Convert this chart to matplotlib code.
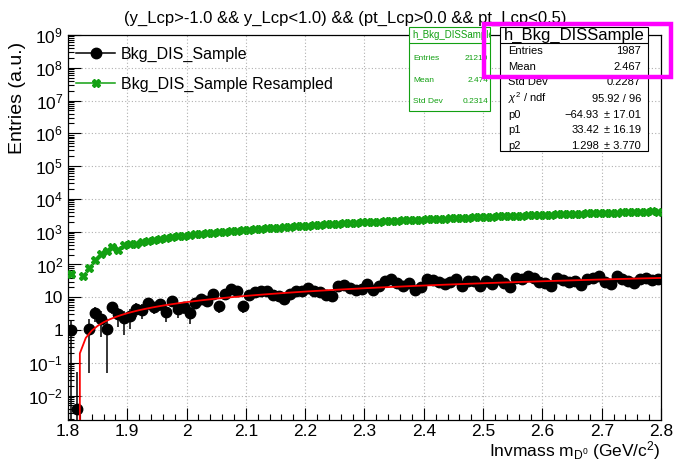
import numpy as np
import matplotlib
matplotlib.use("Agg")
import matplotlib.pyplot as plt
import matplotlib.patches as mpatches
from matplotlib.lines import Line2D
from matplotlib.ticker import FixedLocator, FuncFormatter, NullFormatter

plt.rcParams['font.family'] = ['Liberation Sans', 'DejaVu Sans']
plt.rcParams['mathtext.fontset'] = 'custom'
plt.rcParams['mathtext.rm'] = 'Liberation Sans'
plt.rcParams['mathtext.it'] = 'Liberation Sans:italic'

# bin centres, 100 bins of 0.01 between 1.8 and 2.8
bin_lo = 1.8
bin_w = 0.01
n_bins = 100

# h_Bkg_DISSample (black)
bkg = [1.0, 0.004, np.nan, 1.1, 3.3, 2.2, 1.1, 5.2, 3.0, 2.3,
       2.7, 4.5, 4.1, 6.6, 5.2, 6.1, 3.6, 7.7, 4.3, 5.2,
       3.3, 6.9, 8.7, 7.7, 12.3, 5.5, 13, 18, 15.5, 5.5,
       12, 14, 16, 15, 12, 11, 9, 13, 15, 15.5,
       19, 15, 14, 12, 11, 22, 23, 19, 17, 18,
       25, 17, 22, 31, 35, 27, 22, 28, 17, 20,
       35, 33, 30, 25, 29, 35, 22, 31, 31, 22,
       31, 25, 35, 27, 21, 40, 35, 44, 38, 30,
       28, 22, 40, 33, 30, 31, 24, 35, 40, 44,
       30, 26, 44, 35, 31, 28, 35, 38, 33, 35]
bkg_err = [1.0, 0.05, 0, 1.05, 1.6, 1.6, 1.05, 2.2, 1.8, 1.6,
           1.6, 2.0, 2.0, 2.4, 2.2, 2.3, 1.8, 2.6, 2.0, 2.2,
           1.8, 2.5, 2.8, 2.6, 3.3, 2.2, 3.4, 4.0, 3.7, 2.2,
           3.3, 3.5, 3.8, 3.7, 3.3, 3.1, 2.8, 3.4, 3.7, 3.7,
           4.1, 3.7, 3.5, 3.3, 3.1, 4.4, 4.5, 4.1, 3.9, 4.0,
           4.7, 3.9, 4.4, 5.2, 5.5, 4.9, 4.4, 5.0, 3.9, 4.2,
           5.5, 5.4, 5.1, 4.7, 5.1, 5.5, 4.4, 5.2, 5.2, 4.4,
           5.2, 4.7, 5.5, 4.9, 4.3, 5.9, 5.5, 6.2, 5.8, 5.1,
           5.0, 4.4, 5.9, 5.4, 5.1, 5.2, 4.6, 5.5, 5.9, 6.2,
           5.1, 4.8, 6.2, 5.5, 5.2, 5.0, 5.5, 5.8, 5.4, 5.5]

# resampled (green)
resampled = [50, np.nan, 45, 80, 135, 215, 250, 330, 280, 400,
             420, 430, 480, 520, 560, 590, 620, 670, 720, 760,
             800, 830, 860, 900, 940, 980, 1010, 1050, 1080, 1120,
             1150, 1190, 1230, 1270, 1300, 1340, 1380, 1420, 1460, 1500,
             1540, 1580, 1620, 1660, 1700, 1750, 1800, 1840, 1880, 1920,
             1960, 2000, 2040, 2080, 2120, 2170, 2210, 2250, 2300, 2340,
             2380, 2420, 2470, 2510, 2560, 2600, 2640, 2690, 2730, 2780,
             2820, 2870, 2910, 2960, 3000, 3050, 3090, 3140, 3180, 3230,
             3270, 3320, 3360, 3410, 3450, 3500, 3540, 3590, 3630, 3680,
             3720, 3770, 3810, 3860, 3900, 3950, 3990, 4040, 4200, 4100]

# pol2 fit parameters from the stats box
p0, p1, p2 = -64.93, 33.42, 1.298

x_ticks = [1.8, 1.9, 2.0, 2.1, 2.2, 2.3, 2.4, 2.5, 2.6, 2.7, 2.8]
x_tick_labels = ['1.8', '1.9', '2', '2.1', '2.2', '2.3', '2.4', '2.5', '2.6', '2.7', '2.8']
y_decades = list(range(-2, 10))

W, H = 674, 463


def fx(px):
    return px / W


def fy(py):
    return 1 - py / H


centers = bin_lo + bin_w * (np.arange(n_bins) + 0.5)

fig = plt.figure(figsize=(6.74, 4.63), dpi=100)
ax = fig.add_axes([fx(68), fy(420), fx(661) - fx(68), fy(35) - fy(420)])
ax.set_yscale('log')

green = '#12a012'
ax.plot(centers, resampled, linestyle='none', marker='X', ms=6.3, color=green,
        mec=green, zorder=3)
ax.errorbar(centers, bkg, yerr=bkg_err, fmt='o', ms=7.5, color='black',
            ecolor='black', elinewidth=1.1, capsize=0, zorder=4)

xf = np.linspace(1.8, 2.8, 101)
yf = p0 + p1 * xf + p2 * xf ** 2
ax.plot(xf, yf, color='red', lw=1.3, zorder=5)

ax.set_xlim(1.8, 2.8)
ax.set_ylim(1.8e-3, 1e9)

ax.xaxis.set_major_locator(FixedLocator(x_ticks))
ax.set_xticklabels(x_tick_labels)
ax.xaxis.set_minor_locator(FixedLocator(np.arange(1.8, 2.801, 0.02)))
ax.yaxis.set_major_locator(FixedLocator([10.0 ** e for e in y_decades]))
minors = [m * 10.0 ** e for e in range(-3, 9) for m in range(2, 10)]
ax.yaxis.set_minor_locator(FixedLocator([v for v in minors if 1.8e-3 < v < 1e9]))
ax.yaxis.set_minor_formatter(NullFormatter())


def ylab(v, pos):
    e = int(round(np.log10(v)))
    if e == 0:
        return '1'
    if e == 1:
        return '10'
    return r'$10^{%d}$' % e


ax.yaxis.set_major_formatter(FuncFormatter(ylab))
ax.tick_params(which='both', direction='in', top=False, right=False, labelsize=12.5)
ax.tick_params(which='major', length=9, width=0.8)
ax.tick_params(which='minor', length=4.5, width=0.8)
ax.tick_params(axis='x', pad=3)
ax.grid(True, which='major', color='#b0b0b0', linestyle=(0, (1, 2)), lw=0.8)
for s in ax.spines.values():
    s.set_linewidth(0.9)

fig.text(fx(345), fy(18), '(y_Lcp>-1.0 && y_Lcp<1.0) && (pt_Lcp>0.0 && pt_Lcp<0.5)',
         ha='center', va='center', fontsize=12)
fig.text(fx(18), fy(42), 'Entries (a.u.)', rotation=90, ha='center', va='top', fontsize=14)
fig.text(fx(661), fy(462), r'Invmass m$_{\mathregular{D^{0}}}$ (GeV/c$^{2}$)',
         ha='right', va='bottom', fontsize=12.5)

h_black = Line2D([], [], color='black', marker='o', ms=7.5, lw=1.1)
h_green = Line2D([], [], color=green, marker='X', ms=6.3, lw=1.1)
ax.legend([h_black, h_green], ['Bkg_DIS_Sample', 'Bkg_DIS_Sample Resampled'],
          loc='upper left', bbox_to_anchor=(fx(62), fy(32)), bbox_transform=fig.transFigure,
          frameon=False, fontsize=11.5, handlelength=2.4, labelspacing=0.95,
          handletextpad=0.4)

# green stats box (behind)
gx0, gx1, gy0, gy1 = 409, 490, 27, 111
gbox = mpatches.Rectangle((fx(gx0), fy(gy1)), fx(gx1) - fx(gx0), fy(gy0) - fy(gy1),
                          transform=fig.transFigure, facecolor='white', edgecolor=green,
                          lw=0.8, zorder=10)
fig.patches.append(gbox)
fig.add_artist(mpatches.Rectangle((fx(gx0), fy(43)), fx(gx1) - fx(gx0), 0,
                                  transform=fig.transFigure, edgecolor=green, lw=0.8, zorder=11))
t = fig.text(fx(412), fy(35), 'h_Bkg_DISSample', color=green, fontsize=7,
             ha='left', va='center', zorder=12)
t.set_clip_path(gbox)
t.set_clip_on(True)
g_rows = [('Entries', '21219', 58), ('Mean', '2.474', 80), ('Std Dev', '0.2314', 101)]
for lab, val, yy in g_rows:
    fig.text(fx(413), fy(yy), lab, color=green, fontsize=6, ha='left', va='center', zorder=12)
    tv = fig.text(fx(488), fy(yy), val, color=green, fontsize=6, ha='right', va='center', zorder=12)
    tv.set_clip_path(gbox)
    tv.set_clip_on(True)

# black stats box
bx0, bx1, by0, by1 = 500, 648, 27, 151
fig.patches.append(mpatches.Rectangle((fx(bx0), fy(by1)), fx(bx1) - fx(bx0), fy(by0) - fy(by1),
                                      transform=fig.transFigure, facecolor='white',
                                      edgecolor='black', lw=0.8, zorder=13))
fig.add_artist(mpatches.Rectangle((fx(bx0), fy(43)), fx(bx1) - fx(bx0), 0,
                                  transform=fig.transFigure, edgecolor='black', lw=0.8, zorder=14))
fig.text(fx((bx0 + bx1) / 2), fy(35), 'h_Bkg_DISSample', fontsize=12,
         ha='center', va='center', zorder=15)
b_rows = [('Entries', '1987', None, 51), ('Mean', '2.467', None, 66.5),
          ('Std Dev', '0.2287', None, 82), (r'$\chi^{2}$ / ndf', '95.92 / 96', None, 98.5),
          ('p0', '\u221264.93', '\u00b1 17.01', 114.5), ('p1', '33.42', '\u00b1 16.19', 130),
          ('p2', '1.298', '\u00b1 3.770', 146)]
for lab, val, err, yy in b_rows:
    fig.text(fx(508), fy(yy), lab, fontsize=8, ha='left', va='center', zorder=15)
    if err is None:
        fig.text(fx(641), fy(yy), val, fontsize=8, ha='right', va='center', zorder=15)
    else:
        fig.text(fx(599), fy(yy), val, fontsize=8, ha='right', va='center', zorder=15)
        fig.text(fx(641), fy(yy), err, fontsize=8, ha='right', va='center', zorder=15)

# magenta highlight
fig.add_artist(mpatches.Rectangle((fx(484), fy(77)), fx(671) - fx(484), fy(24) - fy(77),
                                  transform=fig.transFigure, facecolor='none',
                                  edgecolor='#ff00ff', lw=3.2, zorder=20))

fig.savefig('out.png', dpi=100)
